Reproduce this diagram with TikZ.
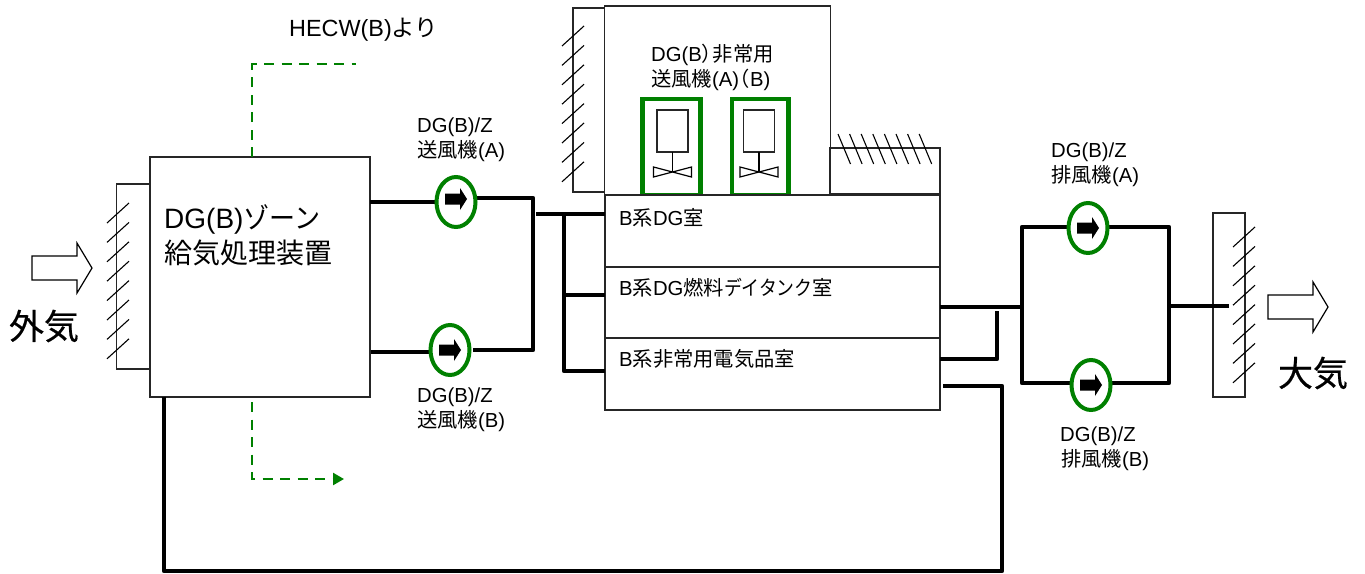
\documentclass[tikz,border=0pt]{standalone}
\usepackage{fontspec}
\setmainfont{Liberation Sans}
\newfontfamily\cjk{Noto Sans CJK JP}
\newfontfamily\cjkb[FakeBold=0.5]{Noto Sans CJK JP}
\usetikzlibrary{shapes.geometric,arrows.meta}
\definecolor{dgreen}{RGB}{0,128,0}
\newcommand{\jp}[1]{{\cjk #1}}
\newcommand{\nar}[2]{\scalebox{#1}[1]{\cjk #2}}
\newcommand{\hatchV}[2]{\foreach \i in {0,...,7}{\draw[hatch] (#1,{#2+19.4*\i}) -- ++(22,-20);}}
\tikzset{
 x=1pt,y=-1pt,
 hatch/.style={draw=black,line width=1.1pt},
 boxx/.style={draw=black!85,line width=1.3pt,fill=white,inner sep=0pt,outer sep=0pt},
 thick line/.style={draw=black,line width=4.4pt,line join=round},
 fan/.style={ellipse,draw=dgreen,line width=4pt,fill=white,minimum width=39pt,minimum height=50pt,inner sep=0pt,outer sep=0pt},
 guard/.style={draw=dgreen,line width=4.5pt,fill=white,inner sep=0pt,outer sep=0pt,minimum width=58pt},
 green dash/.style={draw=dgreen,line width=2.4pt,dash pattern=on 10pt off 7.5pt},
 lab/.style={font=\fontsize{20.3}{23}\selectfont,inner sep=0pt,anchor=west},
 big/.style={font=\fontsize{35}{38}\selectfont\cjkb,inner sep=0pt},
 flow/.style={draw=black,line width=1.2pt,fill=white},
}
\newcommand{\fanarrow}[2]{\fill[black] ([shift={(-11,{-5.5+#2})}]#1.center) -- ++(15,0) -- ++(0,-5.5) -- ++(7,11) -- ++(-7,11) -- ++(0,-5.5) -- ++(-15,0) -- cycle;}
\newcommand{\flowarrow}[2]{\draw[flow] (#1,{#2-12}) -- ++(45,0) -- ++(0,-13) -- ++(15,25) -- ++(-15,25) -- ++(0,-13) -- ++(-45,0) -- cycle;}
\newcommand{\impeller}[3]{%
 \node[boxx,minimum width=31pt,minimum height=42pt] (#1m) at (#2,#3) {};
 \coordinate (#1c) at (#2,{#3+41});
 \draw[line width=1.4pt] (#1m.south) -- (#1c);
 \draw[line width=1.2pt,fill=white] ([xshift=-19pt,yshift=5pt]#1c) -- ([xshift=19pt,yshift=-5pt]#1c) -- ([xshift=19pt,yshift=5pt]#1c) -- ([xshift=-19pt,yshift=-5pt]#1c) -- cycle;
}
\begin{document}
\begin{tikzpicture}
\useasboundingbox (0,0) rectangle (1365,573);
% left louver + main box
\node[boxx,minimum width=33pt,minimum height=185pt] (lv1) at (133,276.5) {};
\hatchV{107}{223}
\node[boxx,minimum width=220pt,minimum height=240pt] (main) at (260,277) {};
\node[lab,font=\fontsize{28}{31}\selectfont] (mt1) at (164,219) {DG(B)\nar{0.93}{ゾーン}};
\node[lab,font=\fontsize{28}{31}\selectfont\cjk] (mt2) at (164,253) {給気処理装置};
\flowarrow{32}{268}
\node[big] (gai) at (44,326) {外気};
% green dashed
\coordinate (d1a) at (252,157); \coordinate (d1b) at (252,64); \coordinate (d1c) at (356,64);
\draw[green dash] (d1a) -- (d1b) -- (d1c);
\coordinate (d2a) at (252,402); \coordinate (d2b) at (252,479); \coordinate (d2c) at (344,479);
\draw[green dash,-{Triangle[length=11pt,width=12pt]}] (d2a) -- (d2b) -- (d2c);
\node[lab] (hecw) at (289,30) {\fontsize{23.4}{26}\selectfont HECW(B)\jp{より}};
% upper room
\node[boxx,minimum width=32pt,minimum height=184pt] (lv2) at (589,100) {};
\hatchV{562}{46}
\node[boxx,minimum width=226pt,minimum height=189pt] (up) at (717.5,100.5) {};
\node[boxx,minimum width=110pt,minimum height=46pt] (side) at (885,171) {};
\foreach \i in {0,...,7}{\draw[hatch] ({838+11.6*\i},134) -- ++(12.5,30);}
\node[lab] (dgt1) at (651,55) {DG(B\makebox[11pt][l]{\cjk ）}\jp{非常用}};
\node[lab] (dgt2) at (651,80) {\jp{送風機}(A)\makebox[11pt][r]{\cjk （}B)};
\node[guard,minimum height=96pt] (ga) at (671.5,147) {};
\node[guard,minimum width=56.5pt,minimum height=96pt] (gb) at (760.25,147) {};
\impeller{ia}{672.5}{131}
\impeller{ib}{759}{131}
% rooms
\node[boxx,minimum width=335pt,minimum height=72pt] (r1) at (772.5,231) {};
\node[boxx,minimum width=335pt,minimum height=71pt] (r2) at (772.5,302.5) {};
\node[boxx,minimum width=335pt,minimum height=72pt] (r3) at (772.5,374) {};
\node[lab] (r1t) at (619,218) {B\jp{系}DG\jp{室}};
\node[lab] (r2t) at (619,288) {B\jp{系}DG\jp{燃料}\nar{0.88}{デイタンク}\jp{室}};
\node[lab] (r3t) at (619,359) {B\jp{系非常用電気品室}};
% supply fans
\coordinate (s1) at (370,202); \coordinate (s2) at (371,352);
\coordinate (m1) at (533,198); \coordinate (m2) at (533,350);
\coordinate (o1) at (473,198); \coordinate (o2) at (473,350);
\draw[thick line] (s1) -- (436,202);
\draw[thick line] (s2) -- (430,352);
\draw[thick line] (o1) -- (m1) -- (m2) -- (o2);
\coordinate (h0) at (536,214); \coordinate (h1) at (564,214); \coordinate (h2) at (564,295); \coordinate (h3) at (564,371);
\draw[thick line] (h0) -- (r1.west |- h0);
\draw[thick line] (h1) -- (h3) -- (r3.west |- h3);
\draw[thick line] (h2) -- (r2.west |- h2);
\node[fan] (fa) at (456,202) {}; \fanarrow{fa}{-3}
\node[fan] (fb) at (450,350) {}; \fanarrow{fb}{0}
\node[lab] (fa1) at (417,127) {DG(B)/Z};
\node[lab] (fa2) at (417,151) {\jp{送風機}(A)};
\node[lab] (fb1) at (417,397) {DG(B)/Z};
\node[lab] (fb2) at (417,421) {\jp{送風機}(B)};
% exhaust
\coordinate (e0) at (1022,307); \coordinate (e1) at (1022,227); \coordinate (e2) at (1022,383);
\coordinate (e3) at (1169,227); \coordinate (e4) at (1169,383); \coordinate (e5) at (1169,306);
\coordinate (e6) at (1229,306);
\coordinate (b1) at (997,311); \coordinate (b2) at (997,359);
\coordinate (c1) at (943,386); \coordinate (c2) at (1002,386); \coordinate (c3) at (1002,571); \coordinate (c4) at (164,571); \coordinate (c5) at (164,397);
% right louver
\node[boxx,minimum width=32pt,minimum height=184pt] (lv3) at (1229,305) {};
\hatchV{1233}{247}
\draw[thick line] (r2.east |- e0) -- (e0);
\draw[thick line] (e1) -- (e2) -- (e4) -- (e3) -- cycle;
\draw[thick line] (e5) -- (e6);
\draw[thick line] (b1) -- (b2) -- (r3.east |- b2);
\draw[thick line] (c1) -- (c2) -- (c3) -- (c4) -- (c5);
\node[fan] (fc) at (1088,228) {}; \fanarrow{fc}{0}
\node[fan] (fd) at (1091,385) {}; \fanarrow{fd}{0}
\node[lab] (fc1) at (1051,152) {DG(B)/Z};
\node[lab] (fc2) at (1051,176) {\jp{排風機}(A)};
\node[lab] (fd1) at (1060,436) {DG(B)/Z};
\node[lab] (fd2) at (1061,460) {\jp{排風機}(B)};
\flowarrow{1268}{307}
\node[big] (tai) at (1313,373) {大気};
\end{tikzpicture}
\end{document}
